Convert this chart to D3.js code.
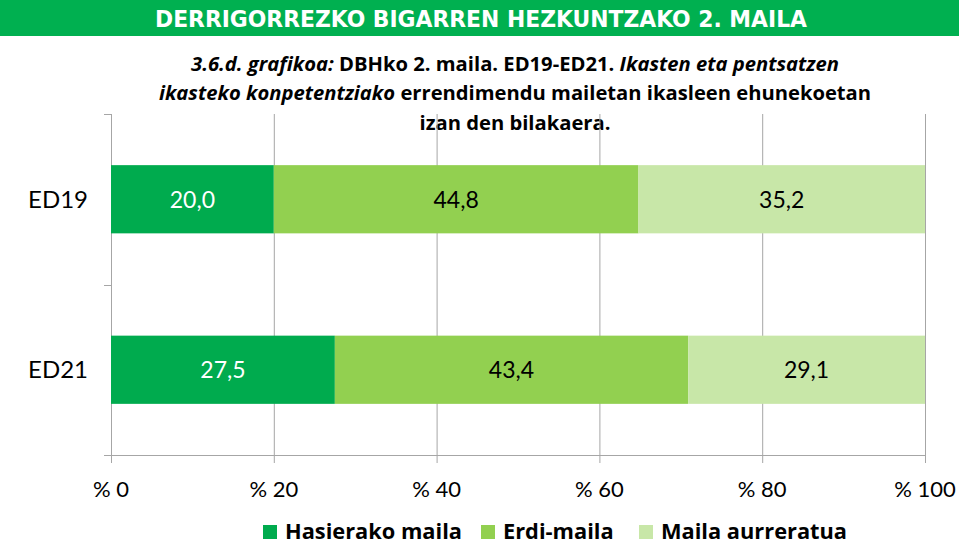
<!DOCTYPE html>
<html>
<head>
<meta charset="utf-8">
<script src="https://cdn.jsdelivr.net/npm/d3@7"></script>
<style>
  body { margin: 0; background: #fff; }
  svg { display: block; font-family: Lato, "Open Sans", sans-serif; }
</style>
</head>
<body>
<div id="chart"></div>
<script>
var width = 959,
    height = 546

// data
var categories = ["ED19", "ED21"]
var seriesNames = ["Hasierako maila", "Erdi-maila", "Maila aurreratua"]
var hasierako = [20.0, 27.5]
var erdi = [44.8, 43.4]
var aurreratua = [35.2, 29.1]
var tickValues = [0, 20, 40, 60, 80, 100]
var colors = ["#00ab4e", "#92d050", "#c8e7a8"]

var margin = {left: 111, right: 34, top: 114, bottom: 91}

var svg = d3.select("#chart")
  .append("svg")
    .attr("width", width)
    .attr("height", height)

// banner
svg.append("rect")
  .attr("x", 0).attr("y", 0)
  .attr("width", width).attr("height", 36)
  .attr("fill", "#00b050")

svg.append("text")
  .attr("x", 481).attr("y", 27)
  .attr("text-anchor", "middle")
  .attr("fill", "#fff")
  .style("font-family", "'DejaVu Sans Condensed', 'Liberation Sans Narrow', sans-serif")
  .style("font-weight", "bold")
  .style("font-size", "23px")
  .attr("textLength", 652)
  .attr("lengthAdjust", "spacingAndGlyphs")
  .text("DERRIGORREZKO BIGARREN HEZKUNTZAKO 2. MAILA")

// subtitle
var subLines = [
  [["3.6.d. grafikoa:", true], [" DBHko 2. maila. ED19-ED21. ", false], ["Ikasten eta pentsatzen", true]],
  [["ikasteko konpetentziako", true], [" errendimendu mailetan ikasleen ehunekoetan", false]],
  [["izan den bilakaera.", false]]
]
var subY = [71, 100, 130]
subLines.forEach(function(line, i) {
  var t = svg.append("text")
    .attr("x", 515).attr("y", subY[i])
    .attr("text-anchor", "middle")
    .style("font-family", "'Open Sans', sans-serif")
    .style("font-weight", "bold")
    .style("font-size", "20.2px")
    .attr("fill", "#000")
  line.forEach(function(part) {
    t.append("tspan")
      .style("font-style", part[1] ? "italic" : "normal")
      .text(part[0])
  })
})

// stacked data
var rows = categories.map(function(c, i) {
  return {cat: c, "Hasierako maila": hasierako[i], "Erdi-maila": erdi[i], "Maila aurreratua": aurreratua[i]}
})
var stack = d3.stack().keys(seriesNames)
var stacked = stack(rows)

var x = d3.scaleLinear()
  .domain([0, 100])
  .range([margin.left, width - margin.right])

var y = d3.scaleBand()
  .domain(categories)
  .range([margin.top, height - margin.bottom])
  .paddingInner(0.6)
  .paddingOuter(0.3)

var plotBottom = height - margin.bottom

// vertical gridlines
svg.append("g")
  .selectAll("line")
  .data(tickValues)
  .enter()
  .append("line")
    .attr("x1", function(d) { return x(d) + 0.5 })
    .attr("x2", function(d) { return x(d) + 0.5 })
    .attr("y1", margin.top)
    .attr("y2", plotBottom + 8)
    .attr("stroke", "#a6a6a6")
    .attr("stroke-width", 1)

// category axis ticks
var catTicks = [margin.top, (margin.top + plotBottom) / 2, plotBottom]
svg.append("g")
  .selectAll("line")
  .data(catTicks)
  .enter()
  .append("line")
    .attr("x1", margin.left - 7)
    .attr("x2", margin.left + 0.5)
    .attr("y1", function(d) { return Math.round(d) + 0.5 })
    .attr("y2", function(d) { return Math.round(d) + 0.5 })
    .attr("stroke", "#a6a6a6")

// horizontal axis line
svg.append("line")
  .attr("x1", x(0)).attr("x2", x(100) + 1)
  .attr("y1", plotBottom + 0.5).attr("y2", plotBottom + 0.5)
  .attr("stroke", "#a6a6a6")

// bars
var groups = svg.selectAll("g.series")
  .data(stacked)
  .enter()
  .append("g")
    .attr("class", "series")
    .attr("fill", function(d, i) { return colors[i] })

groups.selectAll("rect")
  .data(function(d) { return d })
  .enter()
  .append("rect")
    .attr("x", function(d) { return x(d[0]) })
    .attr("y", function(d) { return y(d.data.cat) })
    .attr("width", function(d) { return x(d[1]) - x(d[0]) })
    .attr("height", y.bandwidth())

// bar labels
groups.each(function(s, si) {
  d3.select(this).selectAll("text")
    .data(s)
    .enter()
    .append("text")
      .attr("x", function(d) { return (x(d[0]) + x(d[1])) / 2 })
      .attr("y", function(d) { return y(d.data.cat) + y.bandwidth() / 2 })
      .attr("dy", "0.36em")
      .attr("text-anchor", "middle")
      .attr("fill", si === 0 ? "#fff" : "#000")
      .style("font-size", "23px")
      .text(function(d) { return d3.format(".1f")(d[1] - d[0]).replace(".", ",") })
})

// category labels
svg.append("g")
  .selectAll("text")
  .data(categories)
  .enter()
  .append("text")
    .attr("x", 88)
    .attr("y", function(d) { return y(d) + y.bandwidth() / 2 })
    .attr("dy", "0.36em")
    .attr("text-anchor", "end")
    .style("font-size", "24px")
    .text(function(d) { return d })

// tick labels
svg.append("g")
  .selectAll("text")
  .data(tickValues)
  .enter()
  .append("text")
    .attr("x", function(d) { return x(d) })
    .attr("y", 497)
    .attr("text-anchor", "middle")
    .style("font-size", "22px")
    .text(function(d) { return "% " + d })

// legend
var legendX = [263, 481, 639]
var legend = svg.append("g")
  .selectAll("g")
  .data(seriesNames)
  .enter()
  .append("g")
    .attr("transform", function(d, i) { return "translate(" + legendX[i] + ",525)" })

legend.append("rect")
  .attr("width", 14).attr("height", 14)
  .attr("fill", function(d, i) { return colors[i] })

legend.append("text")
  .attr("x", 22).attr("y", 14)
  .style("font-family", "'Open Sans', sans-serif")
  .style("font-size", "21.8px")
  .style("font-weight", "bold")
  .text(function(d) { return d })
</script>
</body>
</html>
